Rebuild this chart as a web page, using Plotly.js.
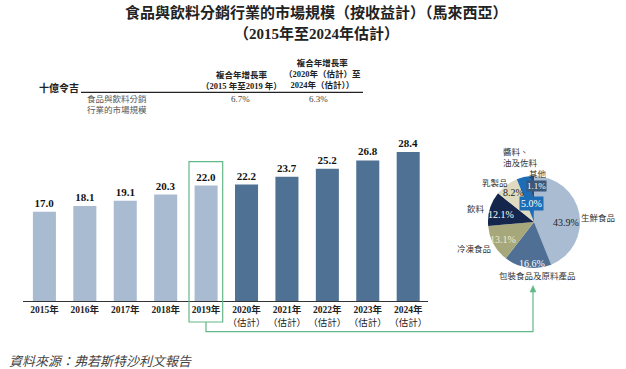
<!DOCTYPE html>
<html>
<head>
<meta charset="utf-8">
<script src="https://cdn.plot.ly/plotly-3.0.1.min.js"></script>
<style>
html,body{margin:0;padding:0;background:#fff;}
#chart{width:626px;height:369px;}
</style>
</head>
<body>
<div id="chart"></div>
<script>
// ---- data ----
const years = ['2015年','2016年','2017年','2018年','2019年','2020年','2021年','2022年','2023年','2024年'];
const estimateNote = '（估計）';
const marketSize = [17.0, 18.1, 19.1, 20.3, 22.0, 22.2, 23.7, 25.2, 26.8, 28.4];
const isForecast = [false, false, false, false, false, true, true, true, true, true];

const pieLabels = ['生鮮食品', '包裝食品及原料產品', '冷凍食品', '飲料', '乳製品', '醬料、油及佐料', '其他'];
const pieValues = [43.9, 16.6, 13.1, 12.1, 8.2, 5.0, 1.1];

const cagrHeaders = ['複合年增長率<br>（2015 年至2019 年）', '複合年增長率<br>（2020年（估計）至<br>2024年（估計））'];
const cagrValues = ['6.7%', '6.3%'];
const rowLabel = '食品與飲料分銷<br>行業的市場規模';
const unitLabel = '十億令吉';

// ---- styling ----
const W = 626, H = 369;
const px = x => x / W;
const py = y => 1 - y / H;
const LIGHT = '#a9bbd1', DARK = '#4f7193';
const pieColors = ['#a9bcd2', '#4f6f94', '#a6a77a', '#14264b', '#dedbc0', '#1c6db5', '#2c4a72'];
const SERIF = 'Liberation Serif, Noto Sans CJK TC, serif';
const CJK = 'Noto Sans CJK TC, sans-serif';
const GREEN = '#63b888';

const tickText = years.map((y, i) => isForecast[i]
  ? y + '<br><span style="font-weight:normal">' + estimateNote + '</span>'
  : y);

const bar = {
  type: 'bar',
  x: years,
  y: marketSize,
  marker: {color: isForecast.map(f => f ? DARK : LIGHT)},
  text: marketSize.map(v => v.toFixed(1)),
  textposition: 'outside',
  textfont: {family: SERIF, size: 11, color: '#111', weight: 'bold'},
  cliponaxis: false,
  hoverinfo: 'none',
  xaxis: 'x', yaxis: 'y'
};

const pie = {
  type: 'pie',
  labels: pieLabels,
  values: pieValues,
  sort: false,
  direction: 'clockwise',
  rotation: 0,
  textinfo: 'none',
  hoverinfo: 'none',
  marker: {colors: pieColors, line: {width: 0}},
  domain: {x: [px(534 - 46), px(534 + 46)], y: [py(222 + 46), py(222 - 46)]},
  showlegend: false
};

const annotations = [];
function ann(text, x, y, opts) {
  annotations.push(Object.assign({
    text: text, x: px(x), y: py(y), xref: 'paper', yref: 'paper',
    showarrow: false, xanchor: 'center', yanchor: 'middle',
    font: {family: CJK, size: 9, color: '#333'}
  }, opts || {}));
}

// title
ann('食品與飲料分銷行業的市場規模（按收益計）（馬來西亞）', 316, 12, {font: {family: CJK, size: 15, color: '#222', weight: 'bold'}});
ann('（2015年至2024年估計）', 316, 33, {font: {family: SERIF, size: 15, color: '#222', weight: 'bold'}});

// table
ann(unitLabel, 59, 87, {font: {family: CJK, size: 10, color: '#222', weight: 'bold'}});
ann(cagrHeaders[0], 241, 80, {font: {family: SERIF, size: 8.5, color: '#222', weight: 'bold'}});
ann(cagrHeaders[1], 322, 74, {font: {family: SERIF, size: 8.5, color: '#222', weight: 'bold'}});
ann(rowLabel, 85, 104, {xanchor: 'left', align: 'left', font: {family: CJK, size: 8.5, color: '#555'}});
ann(cagrValues[0], 240, 99, {font: {family: SERIF, size: 9, color: '#444'}});
ann(cagrValues[1], 318, 99, {font: {family: SERIF, size: 9, color: '#444'}});

// pie labels
const outLabelFont = {family: CJK, size: 8.5, color: '#333'};
ann('生鮮食品', 598, 217, {font: outLabelFont});
ann('包裝食品及原料產品', 537, 275, {font: outLabelFont});
ann('冷凍食品', 474, 248, {font: outLabelFont});
ann('飲料', 476, 208, {font: outLabelFont});
ann('乳製品', 495, 182, {font: outLabelFont});
ann('醬料、<br>油及佐料', 502, 156, {xanchor: 'left', align: 'left', font: outLabelFont, borderpad: 0});
ann('其他', 538, 172.5, {font: outLabelFont, borderpad: 0});

const pctFont = (c) => ({family: SERIF, size: 10, color: c});
ann(pieValues[0].toFixed(1) + '%', 566, 222, {font: pctFont('#222')});
ann(pieValues[1].toFixed(1) + '%', 532, 263, {font: pctFont('#fff')});
ann(pieValues[2].toFixed(1) + '%', 503, 239, {font: pctFont('#f1ecd2')});
ann(pieValues[3].toFixed(1) + '%', 501, 214, {font: pctFont('#fff')});
ann(pieValues[4].toFixed(1) + '%', 513, 193, {font: pctFont('#222')});
ann(pieValues[5].toFixed(1) + '%', 531, 203, {font: pctFont('#fff'), bgcolor: '#1c6db5', borderpad: 1});
ann(pieValues[6].toFixed(1) + '%', 536, 186, {font: {family: SERIF, size: 9, color: '#fff'}, bgcolor: '#3b5779', borderpad: 0});

// footer
ann('資料來源：弗若斯特沙利文報告', 7, 360, {xanchor: 'left', font: {family: CJK, size: 13, color: '#444', style: 'italic'}});

const shapes = [
  // table rule
  {type: 'line', xref: 'paper', yref: 'paper', x0: px(81), x1: px(363), y0: py(92.3), y1: py(92.3), line: {color: '#222', width: 1.3}},
  // green highlight box
  {type: 'rect', xref: 'paper', yref: 'paper', x0: px(189), x1: px(222.7), y0: py(322), y1: py(161.7), line: {color: GREEN, width: 1.2}},
  // connector
  {type: 'path', xref: 'paper', yref: 'paper',
   path: `M ${px(206)} ${py(322)} L ${px(206)} ${py(331.7)} L ${px(533)} ${py(331.7)} L ${px(533)} ${py(291)}`,
   line: {color: GREEN, width: 1.2}},
  {type: 'path', xref: 'paper', yref: 'paper',
   path: `M ${px(533)} ${py(285.5)} L ${px(530)} ${py(292)} L ${px(536)} ${py(292)} Z`,
   fillcolor: GREEN, line: {color: GREEN, width: 0.5}}
];

const layout = {
  width: W, height: H,
  margin: {l: 0, r: 0, t: 0, b: 0},
  paper_bgcolor: '#fff', plot_bgcolor: 'rgba(0,0,0,0)',
  showlegend: false,
  bargap: 0.43,
  xaxis: {
    domain: [px(23), px(428)],
    range: [-0.53, 9.49],
    type: 'category',
    tickmode: 'array', tickvals: years, ticktext: tickText,
    showline: true, linecolor: '#333', linewidth: 1,
    ticks: '', showgrid: false, zeroline: false,
    tickfont: {family: SERIF, size: 9.5, color: '#222', weight: 'bold'},
    fixedrange: true
  },
  yaxis: {
    domain: [py(301), py(130)],
    range: [0, 32.6],
    visible: false, showgrid: false, zeroline: false,
    fixedrange: true
  },
  annotations: annotations,
  shapes: shapes
};

Plotly.newPlot('chart', [bar, pie], layout, {displayModeBar: false, staticPlot: true});
</script>
</body>
</html>
